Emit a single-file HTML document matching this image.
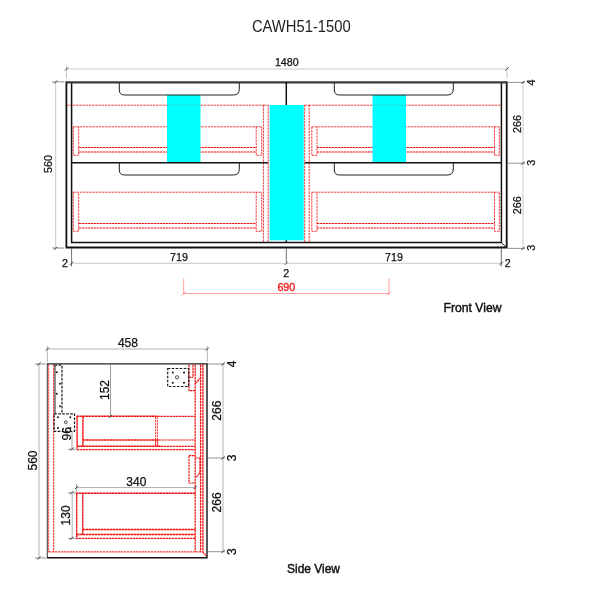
<!DOCTYPE html>
<html>
<head>
<meta charset="utf-8">
<title>CAWH51-1500</title>
<style>
html,body{margin:0;padding:0;background:#fff;}
body{width:600px;height:600px;overflow:hidden;font-family:"Liberation Sans",sans-serif;}
svg{display:block;will-change:transform;}
text{font-family:"Liberation Sans",sans-serif;fill:#111;}
.t,.tr{stroke:#111;stroke-width:0.25;}
.k{stroke:#111;fill:none;stroke-width:1.5;}
.ko{stroke:#111;fill:none;stroke-width:1.8;}
.k1{stroke:#222;fill:none;stroke-width:1;}
.d{stroke:#b2b2b2;fill:none;stroke-width:0.7;}
.e{stroke:#777;fill:none;stroke-width:0.8;}
.s{stroke:#333;fill:none;stroke-width:0.9;}
.r{stroke:#f21c1c;fill:none;stroke-width:0.85;stroke-dasharray:2.4 0.8;}
.r2{stroke:#f21414;fill:none;stroke-width:1.1;stroke-dasharray:2.4 0.6;}
.r3{stroke:#f40f0f;fill:none;stroke-width:1.4;stroke-dasharray:2.6 0.4;}
.r4{stroke:#f31616;fill:none;stroke-width:1.0;stroke-dasharray:2.4 0.6;}
#side .d{stroke:#a4a4a4;stroke-width:0.85;}
#side .r{stroke-width:1.2;stroke:#f21818;stroke-dasharray:2.4 0.6;}
#side .r2{stroke-width:1.35;}
.bd{stroke:#1a1a1a;fill:none;stroke-width:1.2;stroke-dasharray:2.6 1.4;}
.rd{stroke:#f77;fill:none;stroke-width:0.7;}
.c{fill:#00ffff;stroke:none;}
.t{font-size:10.7px;}
.tr{font-size:10.8px;}
.ts{font-size:12px;}
</style>
</head>
<body>
<svg width="600" height="600" viewBox="0 0 600 600">
<rect x="0" y="0" width="600" height="600" fill="#fff"/>

<!-- TITLE -->
<text x="301.3" y="32.3" text-anchor="middle" font-size="16.2" style="fill:#222" textLength="98.8" lengthAdjust="spacingAndGlyphs">CAWH51-1500</text>

<!-- ================= FRONT VIEW ================= -->
<g id="front">
<!-- red dashed: horizontal guide -->
<path class="r" d="M66.5 105.2H263.5M309 105.2H501.3"/>
<!-- centre double verticals -->
<path class="r" d="M263.4 105V243M268.2 105V243M304.7 105V243M309.2 105V243M263.4 105.2H268.2M304.7 105.2H309.2"/>
<!-- drawers left -->
<g id="dL">
<path class="r" d="M73.3 126.8H261.7M73.3 126.8V155.3H78.7V126.8M256.2 126.8V155.3H261.7V126.8"/>
<path class="r2" d="M78.7 147.5H256.2M78.7 152H256.2"/>
<path class="r" d="M73.3 192.2H261.7M73.3 192.2V231.3H78.7V192.2M256.2 192.2V231.3H261.7V192.2"/>
<path class="r2" d="M78.7 223.5H256.2M78.7 228H256.2"/>
</g>
<g id="dR">
<path class="r" d="M311.8 126.8H499.3M311.8 126.8V155.3H317V126.8M494.5 126.8V155.3H499.3V126.8"/>
<path class="r2" d="M317 147.5H494.5M317 152H494.5"/>
<path class="r" d="M311.8 192.2H499.3M311.8 192.2V231.3H317V192.2M494.5 192.2V231.3H499.3V192.2"/>
<path class="r2" d="M317 223.5H494.5M317 228H494.5"/>
</g>
<!-- cyan fills -->
<rect class="c" x="167" y="95" width="33.5" height="67"/>
<rect class="c" x="269.7" y="105" width="34" height="135.3"/>
<rect class="c" x="372.5" y="95" width="33.5" height="67"/>

<path d="M167 105.2H200.5M372.5 105.2H406" style="stroke:#3cc4c8;stroke-width:0.7;stroke-dasharray:2.4 0.8;fill:none"/>
<!-- cabinet outline -->
<path class="ko" d="M66.4 81.5V247.5H506.7V81.5"/>
<path class="k" d="M71.6 82.5V242.6H501.4V82.5"/>
<path class="k1" d="M65.7 82.3H507.3" style="stroke-width:2.2;stroke:#3a3a3a"/>
<path class="k1" d="M501.4 242.6L506.6 247.5"/>
<!-- mid line -->
<path class="k" d="M71.6 162.7H268M304.7 162.7H501.4"/>
<!-- centre vertical -->
<path class="k" d="M286.3 82V105M286.3 240.3V243"/>
<!-- handles -->
<path class="k1" d="M119.3 83V90Q119.3 95 124.5 95H233.5Q239.3 95 239.3 89V83"/>
<path class="k1" d="M334.3 83V90Q334.3 95 339.5 95H447.5Q453.3 95 453.3 89V83"/>
<path class="k1" d="M119.3 163V170Q119.3 175 124.5 175H233.5Q239.3 175 239.3 169V163"/>
<path class="k1" d="M334.3 163V170Q334.3 175 339.5 175H447.5Q453.3 175 453.3 169V163"/>

<!-- dimension lines -->
<path class="d" d="M66.5 69H507M66.5 65.5V78.5M507 65.5V78.5"/>
<path class="d" d="M55.7 81.7V248.7"/>
<path class="d" d="M523 81.7V248.4"/>
<path class="d" d="M71.6 263.3H501.3"/>
<path class="e" d="M52 81.9H64M52 248H64M508 82.4H525M508 163.2H525M508 248.4H525"/>
<path class="e" style="stroke:#4a4a4a" d="M71.6 248.5V266.5M286.3 248.5V262M501.3 248.5V266.5"/>
<path class="s" d="M64.9 70.6L68.1 67.4M505.4 70.6L508.6 67.4M54.1 83.6L57.3 80.4M54.1 250.1L57.3 246.9M521.4 84.0L524.6 80.8M521.4 164.8L524.6 161.6M521.4 250.0L524.6 246.8M70.0 264.9L73.2 261.7M284.7 264.9L287.9 261.7M499.7 264.9L502.9 261.7"/>
<!-- red dim -->
<path class="rd" d="M183.7 293.5H389M183.7 278.5V294.5M389 278.5V294.5M181.7 295.5L185.7 291.5M387 295.5L391 291.5"/>

<!-- text -->
<text class="t" x="286.8" y="66.4" text-anchor="middle">1480</text>
<text class="tr" transform="translate(51.5,164) rotate(-90)" text-anchor="middle">560</text>
<text class="tr" transform="translate(521.1,124) rotate(-90)" text-anchor="middle">266</text>
<text class="tr" transform="translate(521.1,205.3) rotate(-90)" text-anchor="middle">266</text>
<text class="tr" transform="translate(534.5,82.5) rotate(-90)" text-anchor="middle">4</text>
<text class="tr" transform="translate(534.5,162.7) rotate(-90)" text-anchor="middle">3</text>
<text class="tr" transform="translate(534.5,247.8) rotate(-90)" text-anchor="middle">3</text>
<text class="t" x="179" y="261.3" text-anchor="middle">719</text>
<text class="t" x="394" y="261.3" text-anchor="middle">719</text>
<text class="t" x="65.1" y="266.7" text-anchor="middle">2</text>
<text class="t" x="286.3" y="276.5" text-anchor="middle">2</text>
<text class="t" x="507.7" y="266.7" text-anchor="middle">2</text>
<text class="t" x="286.3" y="291.4" text-anchor="middle" style="fill:#f21a1a;stroke:#f21a1a;stroke-width:0.35">690</text>
<text x="472.5" y="312" text-anchor="middle" font-size="13" style="stroke:#111;stroke-width:0.45" textLength="58" lengthAdjust="spacingAndGlyphs">Front View</text>
</g>

<!-- ================= SIDE VIEW ================= -->
<g id="side">
<!-- red inner left + bottom -->
<path class="r4" style="stroke-width:0.85" d="M48.7 364.5V551.9"/>
<path class="r4" d="M53.7 364.5V551.9M48.8 551.9H202.5"/>
<!-- right verticals -->
<path class="r" d="M195.2 364.5V551.7"/>
<path class="r2" d="M200.6 364.5V551.7M202.9 364.5V551.7"/>
<path class="r" d="M202.5 551.7L206.7 556.5"/>
<!-- top latch -->
<path class="r" d="M189 364.5V390.7H195.2M193 364.5V377.3M189 377.3H193M195.2 383.7L200.5 378"/>
<!-- lower latch -->
<path class="r" d="M189 455.7V483H195.2M189 455.7H195.2M195.2 458H200.7M200 458V472.5L196.3 477.3"/>
<!-- upper drawer -->
<path class="r3" d="M76.4 416.3H157.5M77.1 416.3V446.3M82.9 416.3V446.3M77.1 446.3H161M82.9 440H158.5"/>
<path class="r" d="M157.5 416.4H195.2M158.5 440H195.2M161 446.3H195.2M77.1 446.3V449.7H195.2"/>
<path class="r" style="stroke-width:0.8" d="M155.6 417V440M157.4 417V440"/>
<path d="M155.6 440V446.3M157.6 440V446.3" style="stroke:#f21414;stroke-width:0.9;fill:none"/>
<!-- lower drawer -->
<path class="r3" d="M76 493.2H195.2M76.7 493.2V534.5M82.7 493.2V534.5M82.7 529.5H195.2M76.7 534.5H195.2"/>
<path class="r2" d="M76.7 534.5V538.3H195.2"/>

<!-- black dotted brackets -->
<path class="bd" d="M54.6 365.2H62V413.8"/>
<path class="k1" d="M55 365V414" style="stroke-width:1"/>
<path class="bd" d="M54.2 413.8H74.5V431.3H54.2Z"/>
<path class="bd" d="M167.7 368.5H188.6V386.5H167.7Z"/>
<g fill="#1a1a1a">
<circle cx="56.8" cy="372.2" r="1"/><circle cx="60" cy="383.8" r="1"/><circle cx="56.8" cy="393.8" r="1"/><circle cx="60" cy="406.3" r="1"/>
<circle cx="58" cy="417.3" r="1"/><circle cx="70.3" cy="417.3" r="1"/><circle cx="58" cy="428" r="1"/><circle cx="70.3" cy="428" r="1"/>
<circle cx="172.8" cy="372.6" r="1.05"/><circle cx="184" cy="372.6" r="1.05"/><circle cx="172.8" cy="382.8" r="1.05"/><circle cx="184" cy="382.8" r="1.05"/>
</g>
<circle cx="65.8" cy="422.2" r="1.4" fill="#fff" stroke="#222" stroke-width="0.8"/>
<circle cx="177" cy="377.3" r="1.6" fill="#fff" stroke="#222" stroke-width="0.8"/>

<!-- outline -->
<path class="k1" d="M47 363.9H207.6" style="stroke-width:1.1"/>
<path class="k1" d="M47.3 363.5V557.7" style="stroke-width:0.9"/>
<path class="k" d="M47 557.7H207V363.5" style="stroke-width:1.4"/>

<!-- dims -->
<path class="d" d="M47.3 349H207.3M47.3 346V362M207.3 346V362"/>
<path class="d" d="M39 364V558"/>
<path class="d" d="M223 364V552"/>
<path class="d" style="stroke:#808080;stroke-width:0.8" d="M110.5 364V416.4"/>
<path class="d" style="stroke:#909090" d="M72 431.6V449"/>
<path class="d" d="M76.5 487.5H195.2M76.5 484V492"/>
<path class="d" d="M72.2 492.5V538"/>
<path class="e" d="M35 364H46M35 558H46M208 364H225M208 458H225M208 551.7H225M68 449.2H76M68 492.8H76M68 538.3H76"/>
<path class="s" d="M45.7 350.6L48.9 347.4M205.7 350.6L208.9 347.4M37.4 365.6L40.6 362.4M37.4 559.6L40.6 556.4M221.4 365.6L224.6 362.4M221.4 459.6L224.6 456.4M221.4 553.3L224.6 550.1M109.0 418.0L112.2 414.8M70.4 450.6L73.6 447.4M74.9 489.1L78.1 485.9M193.6 489.1L196.8 485.9M70.0 494.4L73.2 491.2M70.0 539.9L73.2 536.7"/>

<!-- text -->
<text class="t ts" x="127.9" y="346.5" text-anchor="middle">458</text>
<text class="tr ts" transform="translate(37,460.5) rotate(-90)" text-anchor="middle">560</text>
<text class="tr ts" transform="translate(220.8,410.7) rotate(-90)" text-anchor="middle">266</text>
<text class="tr ts" transform="translate(220.8,502.4) rotate(-90)" text-anchor="middle">266</text>
<text class="tr ts" transform="translate(236,364) rotate(-90)" text-anchor="middle">4</text>
<text class="tr ts" transform="translate(236,458) rotate(-90)" text-anchor="middle">3</text>
<text class="tr ts" transform="translate(236,551.7) rotate(-90)" text-anchor="middle">3</text>
<text class="tr ts" transform="translate(108.5,390) rotate(-90)" text-anchor="middle">152</text>
<text class="tr ts" transform="translate(70.8,433.8) rotate(-90)" text-anchor="middle">96</text>
<text class="tr ts" transform="translate(70.3,515.4) rotate(-90)" text-anchor="middle">130</text>
<text class="t ts" x="136.3" y="485.8" text-anchor="middle">340</text>
<text x="313.5" y="572.5" text-anchor="middle" font-size="13" style="stroke:#111;stroke-width:0.45" textLength="53" lengthAdjust="spacingAndGlyphs">Side View</text>
</g>
</svg>
</body>
</html>
